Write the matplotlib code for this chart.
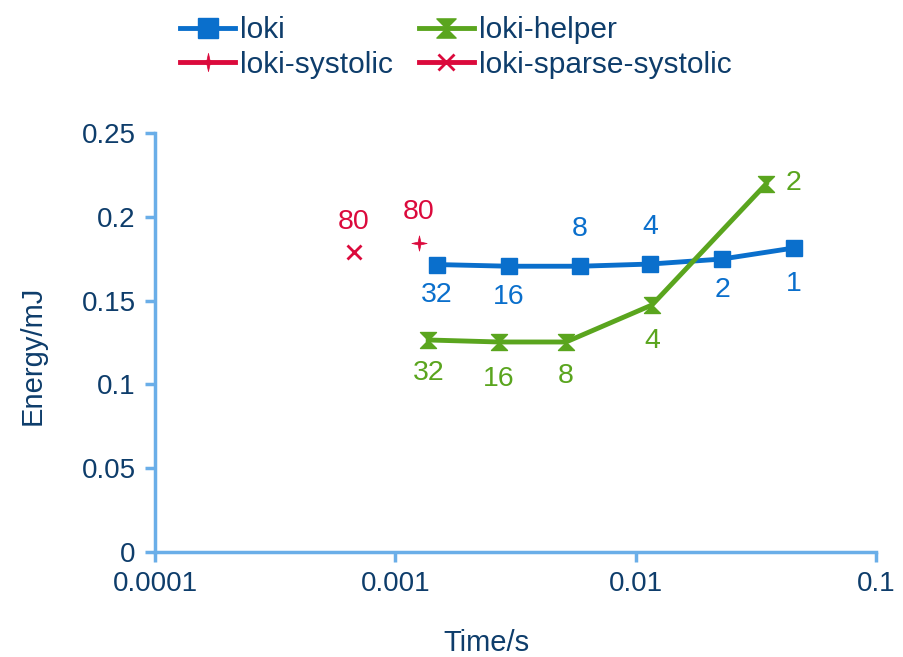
import numpy as np
import matplotlib.pyplot as plt
from matplotlib.path import Path

# Energy vs. execution time for different core counts
loki_time = [0.00149, 0.00297, 0.00587, 0.0115, 0.0229, 0.0456]
loki_energy = [0.1715, 0.1705, 0.1705, 0.1718, 0.1748, 0.1814]
loki_cores = ['32', '16', '8', '4', '2', '1']

helper_time = [0.00137, 0.0027, 0.00513, 0.0117, 0.0349]
helper_energy = [0.1265, 0.1253, 0.1253, 0.1474, 0.2196]
helper_cores = ['32', '16', '8', '4', '2']

systolic_time = [0.001254]
systolic_energy = [0.1844]
systolic_cores = ['80']

sparse_time = [0.000673]
sparse_energy = [0.179]
sparse_cores = ['80']

blue = '#0A6FCC'
green = '#5AA51E'
red = '#DB0A3C'
text_col = '#0E3D6B'
axis_col = '#6AAEE8'

plt.rcParams['font.family'] = ['Liberation Sans', 'DejaVu Sans']

# hourglass marker: two triangles meeting at the centre
hourglass = Path([(-1, 1), (1, 1), (0, 0), (1, -1), (-1, -1), (0, 0), (-1, 1)],
                 [Path.MOVETO, Path.LINETO, Path.LINETO, Path.LINETO, Path.LINETO,
                  Path.LINETO, Path.CLOSEPOLY])
# thin four-point star
s = 0.18
star = Path([(0, 1), (s, s), (1, 0), (s, -s), (0, -1), (-s, -s), (-1, 0), (-s, s), (0, 1)],
            [Path.MOVETO] + [Path.LINETO] * 7 + [Path.CLOSEPOLY])

fig = plt.figure(figsize=(9.04, 6.57), dpi=100)
ax = fig.add_axes([0.1715, 0.1598, 0.969 - 0.1715, 0.7976 - 0.1598])

l1, = ax.plot(loki_time, loki_energy, color=blue, lw=3.5, marker='s', ms=11.5,
              label='loki', zorder=3)
l2, = ax.plot(helper_time, helper_energy, color=green, lw=3.5, marker=hourglass, ms=11.5,
              label='loki-helper', zorder=3)
l3, = ax.plot(systolic_time, systolic_energy, color=red, lw=3.5, marker=star, ms=11,
              markeredgewidth=0.5, label='loki-systolic', zorder=3)
l4, = ax.plot(sparse_time, sparse_energy, color=red, lw=3.5, marker='x', ms=10,
              markeredgewidth=2, label='loki-sparse-systolic', zorder=3)

fs_ann = 20.5
# core count labels, offsets in points from each marker
loki_off = [(0, -22), (0, -22), (0, 26.5), (0, 26.5), (0, -22), (0, -26)]
for t, e, c, off in zip(loki_time, loki_energy, loki_cores, loki_off):
    ax.annotate(c, (t, e), xytext=off, textcoords='offset points',
                ha='center', va='center', color=blue, fontsize=fs_ann)

helper_off = [(0, -24), (0, -27), (0, -24.5), (0, -26), (19.5, 0.5)]
for t, e, c, off in zip(helper_time, helper_energy, helper_cores, helper_off):
    ax.annotate(c, (t, e), xytext=off, textcoords='offset points',
                ha='center', va='center', color=green, fontsize=fs_ann)

red_off = [(0, 22.5), (0, 21.5)]
for t, e, c, off in zip(systolic_time + sparse_time, systolic_energy + sparse_energy,
                        systolic_cores + sparse_cores, red_off):
    ax.annotate(c, (t, e), xytext=off, textcoords='offset points',
                ha='center', va='center', color=red, fontsize=fs_ann)

ax.set_xscale('log')
ax.set_xlim(0.0001, 0.1)
ax.set_ylim(0, 0.25)
ax.set_xticks([0.0001, 0.001, 0.01, 0.1])
ax.set_xticklabels(['0.0001', '0.001', '0.01', '0.1'])
ax.minorticks_off()
ax.set_yticks(np.arange(0, 0.26, 0.05))
ax.set_yticklabels(['0', '0.05', '0.1', '0.15', '0.2', '0.25'])

for side in ['top', 'right']:
    ax.spines[side].set_visible(False)
for side in ['left', 'bottom']:
    ax.spines[side].set_color(axis_col)
    ax.spines[side].set_linewidth(2.5)
ax.tick_params(axis='both', colors=axis_col, width=2.5, length=7,
               labelsize=20, labelcolor=text_col, pad=7)

ax.set_xlabel('Time/s', fontsize=21, color=text_col)
ax.set_ylabel('Energy/mJ', fontsize=21, color=text_col)
ax.xaxis.set_label_coords(0.459, -0.183)
ax.yaxis.set_label_coords(-0.15, 0.47)

# row-wise legend: loki, loki-helper / loki-systolic, loki-sparse-systolic
fig.legend([l1, l3, l2, l4], ['loki', 'loki-systolic', 'loki-helper', 'loki-sparse-systolic'],
           loc='upper left', bbox_to_anchor=(180 / 904, 1 - 16 / 657), ncol=2, frameon=False,
           fontsize=21.5, handlelength=1.85, handletextpad=0.17, columnspacing=0.85,
           labelspacing=0.22, borderpad=0, borderaxespad=0, labelcolor=text_col,
           markerscale=1.2)

fig.savefig('out.png', dpi=100)
